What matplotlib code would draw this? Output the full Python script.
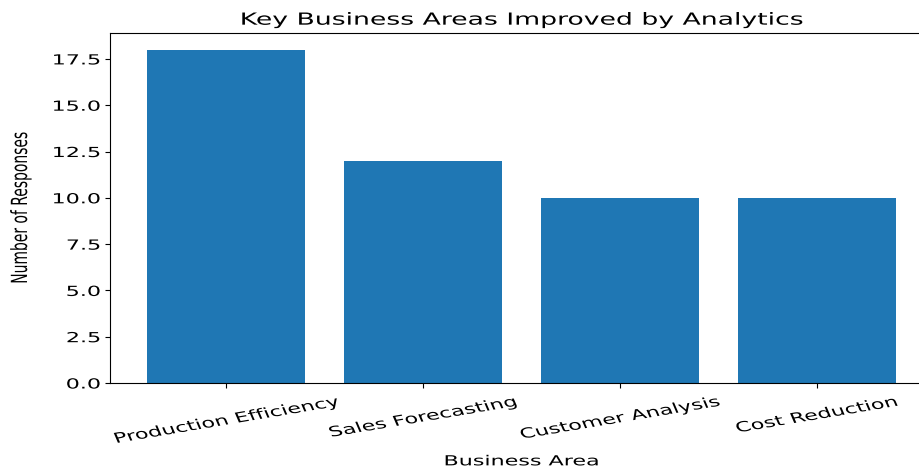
import matplotlib.pyplot as plt
from matplotlib.patheffects import AbstractPathEffect
from matplotlib.transforms import Affine2D

areas = ['Production Efficiency', 'Sales Forecasting', 'Customer Analysis', 'Cost Reduction']
responses = [18, 12, 10, 10]


class Widen(AbstractPathEffect):
    # the reference looks horizontally stretched, so stretch text the same way
    def __init__(self, sx=1.6, anchor='center'):
        super().__init__()
        self.sx = sx
        self.anchor = anchor

    def draw_path(self, renderer, gc, tpath, affine, rgbFace=None):
        ext = tpath.transformed(affine).get_extents()
        x0 = ext.x1 if self.anchor == 'right' else (ext.x0 + ext.x1) / 2
        t = affine + Affine2D().translate(-x0, 0).scale(self.sx, 1).translate(x0, 0)
        renderer.draw_path(gc, tpath, t, rgbFace)


fig = plt.figure(figsize=(9.2, 4.7), dpi=100)
# axes runs past the right edge, as in the reference
ax = fig.add_axes([110 / 920, 87 / 470, 823 / 920, 350 / 470])

ax.bar(areas, responses, color='#1f77b4')
title = ax.set_title('Key Business Areas Improved by Analytics', fontsize=12)
xl = ax.set_xlabel('Business Area', fontsize=10, labelpad=6)
yl = ax.set_ylabel('Number of Responses', fontsize=10)
ax.yaxis.set_label_coords(-0.100, 0.5)
ax.tick_params(axis='both', labelsize=10)
ax.tick_params(axis='x', pad=5)
plt.setp(ax.get_xticklabels(), rotation=15)

for t in [title, xl, yl] + ax.get_xticklabels():
    t.set_path_effects([Widen(1.6)])
for t in ax.get_yticklabels():
    t.set_path_effects([Widen(1.6, 'right')])

fig.savefig('out.png', dpi=100)
